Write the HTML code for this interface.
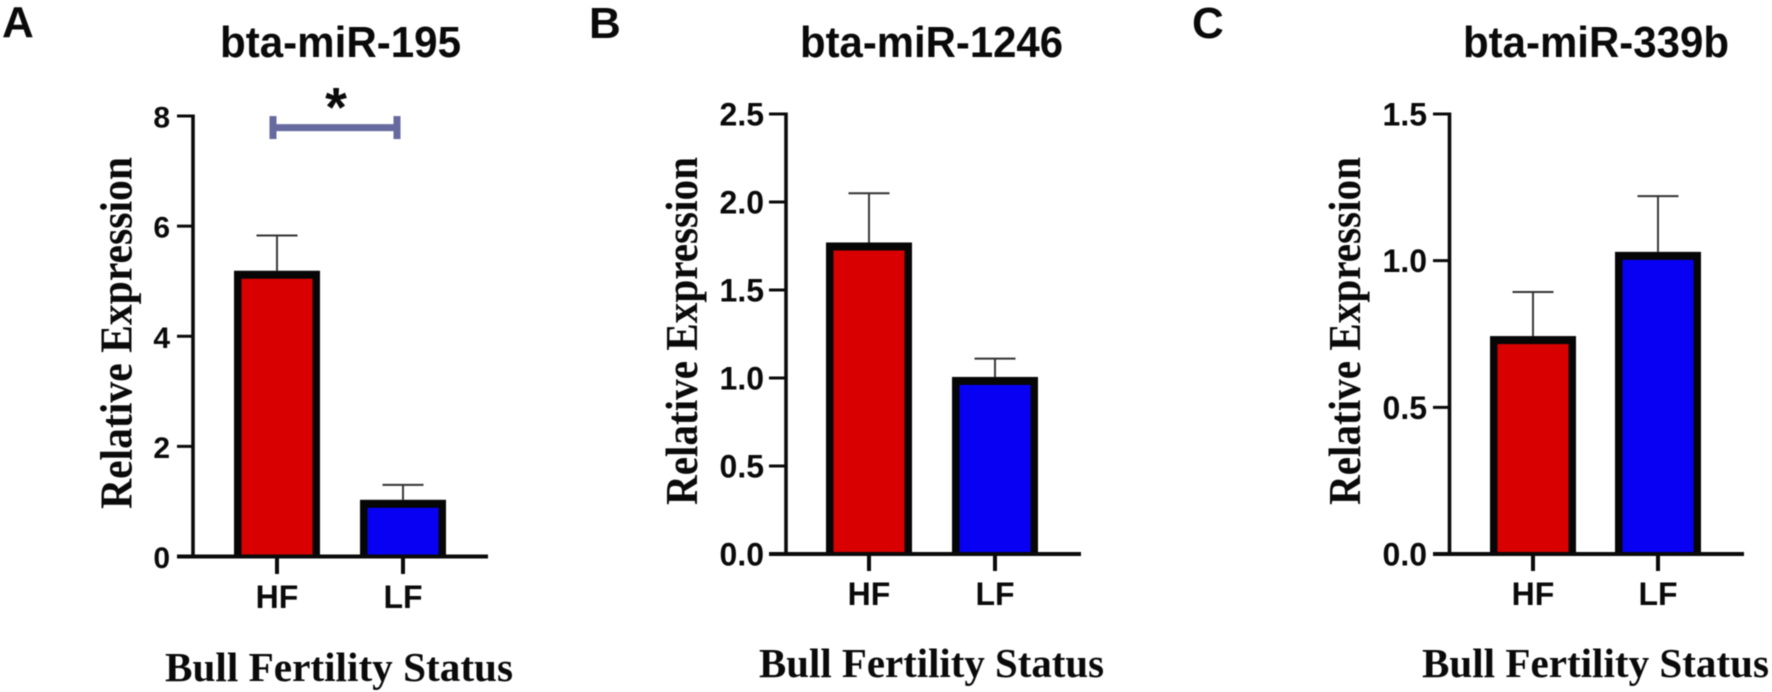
<!DOCTYPE html>
<html lang="en">
<head>
<meta charset="utf-8">
<title>Relative expression of bta-miR-195, bta-miR-1246 and bta-miR-339b</title>
<style>
html,body{margin:0;padding:0;background:#fff;width:1772px;height:692px;overflow:hidden}
svg{display:block;filter:blur(.45px)}
.sans{font-family:"Liberation Sans",Arial,sans-serif;font-weight:700;fill:#0a0a0a}
.serif{font-family:"Liberation Serif","Times New Roman",serif;font-weight:700;fill:#0a0a0a}
</style>
</head>
<body>
<svg id="figure" xmlns="http://www.w3.org/2000/svg" width="1772" height="692" viewBox="0 0 1772 692">
  <rect width="1772" height="692" fill="#fff"/>

  <text class="sans" x="2" y="37" font-size="44">A</text>
  <text class="sans" x="589" y="38" font-size="44">B</text>
  <text class="sans" x="1192" y="38" font-size="44">C</text>

  <text class="sans" x="220" y="57" font-size="43.5" textLength="241" lengthAdjust="spacingAndGlyphs">bta-miR-195</text>
  <text class="sans" x="800" y="57" font-size="43.5" textLength="263" lengthAdjust="spacingAndGlyphs">bta-miR-1246</text>
  <text class="sans" x="1463" y="57" font-size="43.5" textLength="266" lengthAdjust="spacingAndGlyphs">bta-miR-339b</text>

  <text class="serif" transform="translate(131.5 509) rotate(-90)" font-size="46" textLength="352" lengthAdjust="spacingAndGlyphs">Relative Expression</text>
  <text class="serif" transform="translate(697 505) rotate(-90)" font-size="46" textLength="348" lengthAdjust="spacingAndGlyphs">Relative Expression</text>
  <text class="serif" transform="translate(1360 505) rotate(-90)" font-size="46" textLength="348" lengthAdjust="spacingAndGlyphs">Relative Expression</text>

  <text class="serif" x="165" y="681" font-size="41" textLength="348" lengthAdjust="spacingAndGlyphs">Bull Fertility Status</text>
  <text class="serif" x="759" y="677" font-size="41" textLength="345" lengthAdjust="spacingAndGlyphs">Bull Fertility Status</text>
  <text class="serif" x="1422" y="677" font-size="41" textLength="347" lengthAdjust="spacingAndGlyphs">Bull Fertility Status</text>

  <g id="charts"></g>
</svg>

<script>
// Chart data
const categories = ['HF', 'LF'];
const barColors = ['#d80000', '#0800f2'];

const valuesA = [5.19, 1.03];
const errorTopsA = [5.83, 1.30];
const tickLabelsA = ['0', '2', '4', '6', '8'];

const valuesB = [1.77, 1.006];
const errorTopsB = [2.05, 1.11];
const tickLabelsB = ['0.0', '0.5', '1.0', '1.5', '2.0', '2.5'];

const valuesC = [0.743, 1.03];
const errorTopsC = [0.893, 1.22];
const tickLabelsC = ['0.0', '0.5', '1.0', '1.5'];

const significanceLevelA = 7.79;
const significanceLabelA = '*';

// Layout of each panel (pixel frame for the axis functions)
const layoutA = { id: 'a', axisX: 193, tickLeft: 177, axisRight: 488, y0: 556.5, yTop: 116, cat0: 277, catGap: 126, labelRight: 170, tickFont: 30, catBase: 608, tickBottom: 574 };
const layoutB = { id: 'b', axisX: 786, tickLeft: 769, axisRight: 1081, y0: 554, yTop: 114, cat0: 869, catGap: 126, labelRight: 764, tickFont: 32, catBase: 605, tickBottom: 571 };
const layoutC = { id: 'c', axisX: 1449.5, tickLeft: 1433, axisRight: 1744, y0: 554, yTop: 114, cat0: 1533, catGap: 125, labelRight: 1427, tickFont: 32, catBase: 605, tickBottom: 571 };

const NS = 'http://www.w3.org/2000/svg';
const root = document.getElementById('charts');

function make(tag, parent, props) {
  const el = document.createElementNS(NS, tag);
  for (const k in props) el.setAttribute(k, props[k]);
  parent.appendChild(el);
  return el;
}

function drawPanel(layout, values, errorTops, tickLabels) {
  const maxValue = parseFloat(tickLabels[tickLabels.length - 1]);
  const yScale = v => layout.y0 - (v / maxValue) * (layout.y0 - layout.yTop);
  const xScale = i => layout.cat0 + i * layout.catGap;

  const group = make('g', root, {});
  
  

  categories.forEach((cat, i) => {
    const cx = xScale(i);
    const topY = yScale(values[i]);
    const errY = yScale(errorTops[i]);
    const key = cat.toLowerCase() + '-' + layout.id;

    const stem = make('line', group, { x1: cx, x2: cx, y1: topY, y2: errY, stroke: '#3a3a3a', 'stroke-width': 2 });
    
    

    const cap = make('line', group, { x1: cx - 20.5, x2: cx + 20.5, y1: errY, y2: errY, stroke: '#333', 'stroke-width': 2 });
    
    

    const outer = make('rect', group, { x: cx - 43, y: topY, width: 86, height: layout.y0 - topY, fill: '#060606' });
    
    

    const inner = make('rect', group, { x: cx - 35.5, y: topY + 8, width: 71, height: Math.max(0, layout.y0 - topY - 9), fill: barColors[i] });
    
    

    const tick = make('line', group, { x1: cx, x2: cx, y1: layout.y0, y2: layout.tickBottom, stroke: '#0a0a0a', 'stroke-width': 4 });
    
    

    const label = make('text', group, { x: cx, y: layout.catBase, 'text-anchor': 'middle', 'font-size': 32, class: 'sans' });
    label.textContent = cat;
    
    
  });

  const yAxis = make('line', group, { x1: layout.axisX, x2: layout.axisX, y1: layout.yTop - 1.5, y2: layout.y0, stroke: '#0a0a0a', 'stroke-width': 3.6 });
  
  

  const xAxis = make('line', group, { x1: layout.tickLeft, x2: layout.axisRight, y1: layout.y0, y2: layout.y0, stroke: '#0a0a0a', 'stroke-width': 4 });
  
  

  tickLabels.forEach(text => {
    const y = yScale(parseFloat(text));
    const tick = make('line', group, { x1: layout.tickLeft, x2: layout.axisX, y1: y, y2: y, stroke: '#0a0a0a', 'stroke-width': 3 });
    
    

    const label = make('text', group, { x: layout.labelRight, y: y + 11.5, 'text-anchor': 'end', 'font-size': layout.tickFont, class: 'sans' });
    label.textContent = text;
    
    
  });

  return { xScale, yScale, group };
}

const panelA = drawPanel(layoutA, valuesA, errorTopsA, tickLabelsA);
drawPanel(layoutB, valuesB, errorTopsB, tickLabelsB);
drawPanel(layoutC, valuesC, errorTopsC, tickLabelsC);

// Significance bracket on panel A
const bracketY = panelA.yScale(significanceLevelA);
const bracketLeft = panelA.xScale(0) - 4;
const bracketRight = panelA.xScale(1) - 6;
const bracketColor = '#666a9e';

const bracketBar = make('line', panelA.group, { x1: bracketLeft, x2: bracketRight, y1: bracketY, y2: bracketY, stroke: bracketColor, 'stroke-width': 7 });



const bracketCapLeft = make('line', panelA.group, { x1: bracketLeft, x2: bracketLeft, y1: bracketY - 11.5, y2: bracketY + 11.5, stroke: bracketColor, 'stroke-width': 7 });



const bracketCapRight = make('line', panelA.group, { x1: bracketRight, x2: bracketRight, y1: bracketY - 11.5, y2: bracketY + 11.5, stroke: bracketColor, 'stroke-width': 7 });



const star = make('text', panelA.group, { x: (bracketLeft + bracketRight) / 2 + 1, y: bracketY - 1, 'text-anchor': 'middle', 'font-size': 56, class: 'sans' });
star.textContent = significanceLabelA;


</script>
</body>
</html>
